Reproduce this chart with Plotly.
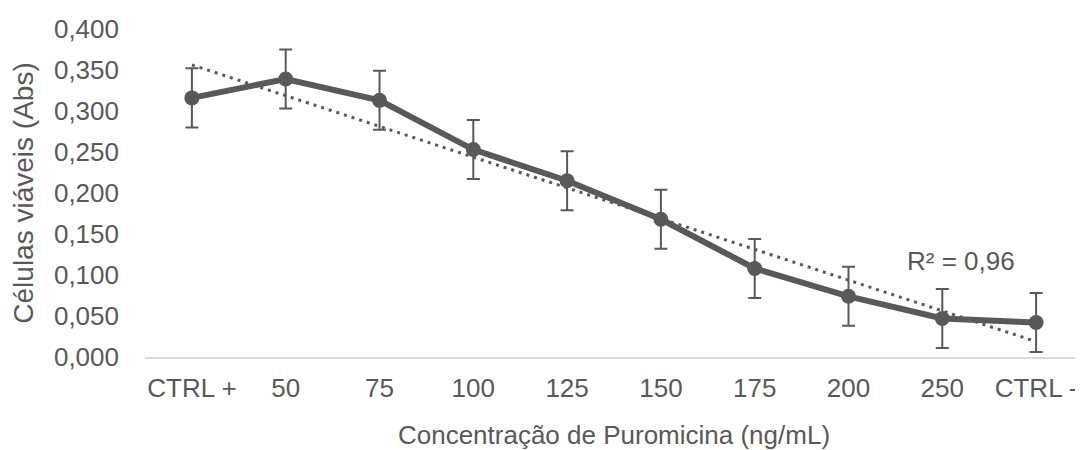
import numpy as np
import plotly.graph_objects as go

categories = ["CTRL +", "50", "75", "100", "125", "150", "175", "200", "250", "CTRL -"]
values = [0.316, 0.339, 0.313, 0.253, 0.215, 0.168, 0.108, 0.074, 0.047, 0.042]
errors = [0.036, 0.036, 0.036, 0.036, 0.036, 0.036, 0.036, 0.036, 0.036, 0.036]
r2_label = "R² = 0,96"

idx = np.arange(1, len(values) + 1)
slope, intercept = np.polyfit(idx, values, 1)
trend = slope * idx + intercept

gray = "#595959"
FONT = "Liberation Sans, Arial, sans-serif"
fig = go.Figure()
fig.add_trace(go.Scatter(
    x=categories, y=trend, mode="lines",
    line=dict(color=gray, width=3, dash="3px,5px"), showlegend=False, hoverinfo="skip"))
fig.add_trace(go.Scatter(
    x=categories, y=values, mode="lines+markers",
    line=dict(color=gray, width=6),
    marker=dict(color=gray, size=15),
    error_y=dict(type="data", array=errors, color=gray, thickness=2, width=6.5),
    showlegend=False))

fig.add_annotation(x=8.2, y=0.117, xref="x", yref="y", text=r2_label, showarrow=False,
                   font=dict(size=26, color=gray, family=FONT))

fig.update_layout(
    width=1075, height=442,
    margin=dict(l=137, r=0, t=21, b=93),
    plot_bgcolor="white", paper_bgcolor="white",
    separators=",.",
    font=dict(family=FONT, size=26, color=gray),
    xaxis=dict(type="category", range=[-0.5, 9.5], showgrid=False, showline=True,
               linecolor="#d9d9d9", linewidth=1.5,
               ticks="", ticklabelstandoff=7, tickfont=dict(size=26), automargin=False,
               title=dict(text="Concentração de Puromicina (ng/mL)", standoff=25,
                          font=dict(size=26, color=gray))),
    yaxis=dict(range=[0, 0.4], dtick=0.05, tickformat=".3f", showgrid=False, zeroline=False,
               showline=False, ticks="", ticklabelstandoff=25, tickfont=dict(size=26), automargin=False,
               title=dict(text="Células viáveis (Abs)", standoff=17, font=dict(size=28, color=gray))),
)

fig.write_html("out.html")
